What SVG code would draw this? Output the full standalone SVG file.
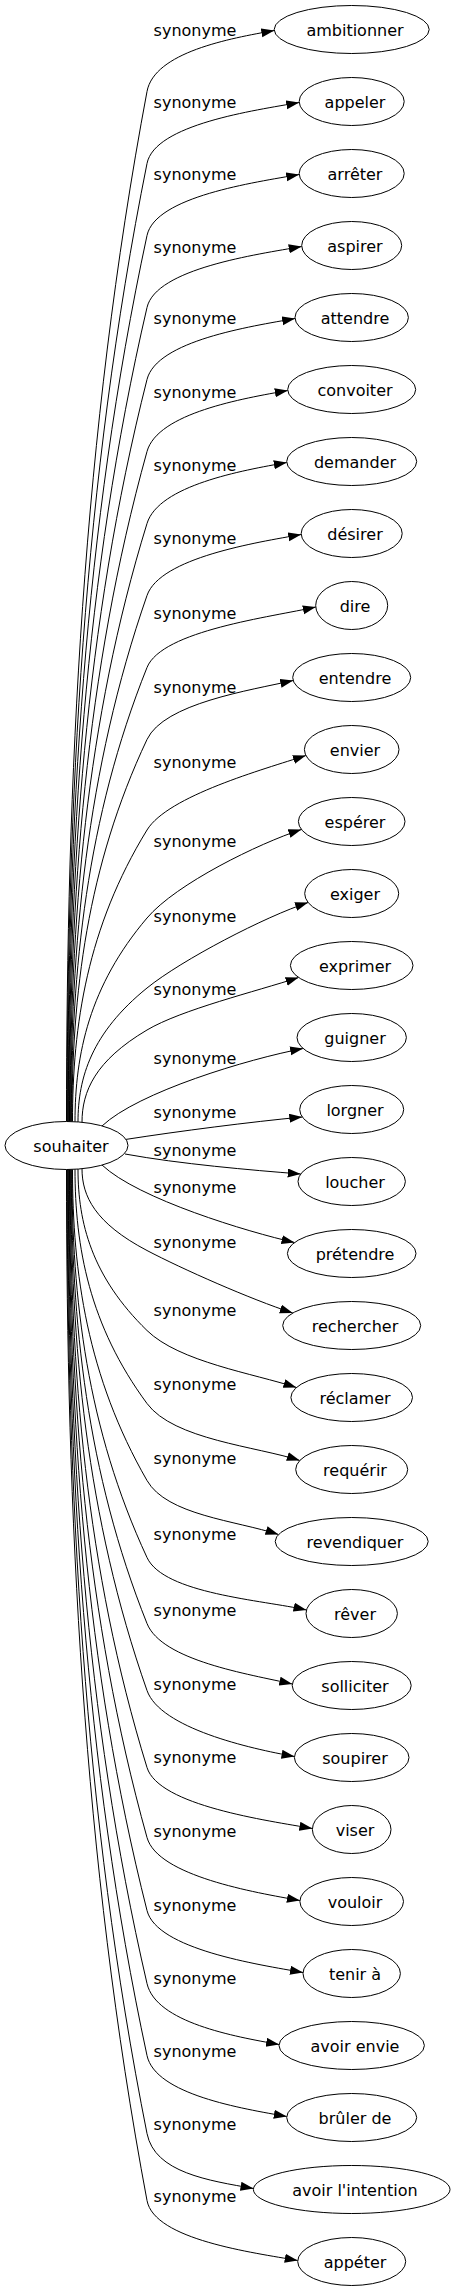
<svg xmlns="http://www.w3.org/2000/svg" width="455" height="2291" viewBox="0 0 455 2291">
<style>
.n ellipse{fill:#fff;stroke:#000;stroke-width:1}
text{font-family:"DejaVu Sans","Liberation Sans",sans-serif;font-size:16px;fill:#000}
.n text{text-anchor:middle}
.lbl{text-anchor:middle}
.e path{fill:none;stroke:#000;stroke-width:1;marker-end:url(#arr)}
</style>
<defs>
<marker id="arr" markerUnits="userSpaceOnUse" markerWidth="14" markerHeight="10" refX="13" refY="4.5" orient="auto">
<path d="M0,0 L13,4.5 L0,9 z" fill="#000"/>
</marker>
</defs>
<rect width="455" height="2291" fill="#fff"/>
<g id="connectors" class="e">
<path d="M66.5,1121.6 C66.5,778.2 82.6,434.9 147,91.5 C154.4,52.2 229.3,38.5 274.3,30.5"/>
<path d="M67.1,1121.6 C67.1,802.2 83.1,482.9 147,163.5 C154.8,124.3 254.2,110.5 299.2,102.5"/>
<path d="M67.7,1121.6 C67.7,826.2 83.6,530.9 147,235.5 C155.4,196.4 254.2,182.5 299.2,174.5"/>
<path d="M68.3,1121.6 C68.3,850.2 84,578.9 147,307.5 C156,268.5 256.7,254.5 301.7,246.5"/>
<path d="M68.9,1121.6 C68.9,874.2 84.5,626.9 147,379.5 C156.8,340.7 250.1,326.5 295.1,318.5"/>
<path d="M69.5,1121.6 C69.5,898.2 85,674.9 147,451.5 C157.7,413 242.8,398.5 287.8,390.5"/>
<path d="M70.1,1121.6 C70.1,922.2 85.5,722.9 147,523.5 C158.8,485.3 241.8,470.5 286.8,462.5"/>
<path d="M70.7,1121.6 C70.7,946.2 86,770.9 147,595.5 C160.1,557.7 256.2,542.5 301.2,534.5"/>
<path d="M71.3,1121.6 C71.3,970.2 86.4,818.9 147,667.5 C161.9,630.4 271.8,617 315.8,607"/>
<path d="M71.9,1121.6 C71.9,994.2 86.9,866.9 147,739.5 C164.1,703.3 249.2,690.5 293.2,680.5"/>
<path d="M72.5,1121.6 C72.5,1024.4 87.4,927.2 147,830 C167.9,795.9 263.1,769.5 305.9,755.5"/>
<path d="M75,1121.8 C75,1053.9 89.4,985.9 147,918 C176.1,883.7 258.6,843.5 301.4,829.5"/>
<path d="M78,1122 C78,1077.3 91.8,1032.7 147,988 C182,959.7 265.3,916.5 308.1,902.5"/>
<path d="M82,1122.3 C82,1091.5 95,1060.8 147,1030 C181.4,1009.6 255.8,991.5 298.6,977.5"/>
<path d="M102,1126 C138,1092 248,1059 303.1,1048.5"/>
<path d="M126,1139.4 C180,1131 250,1122 302.3,1117"/>
<path d="M125,1154 C180,1164 250,1170 300.7,1174"/>
<path d="M102,1165 C138,1199 248,1232 294.5,1242.5"/>
<path d="M82,1168.7 C82,1196 95,1223.2 147,1250.5 C182.4,1269.1 250,1299 292.8,1313"/>
<path d="M78,1169 C78,1222.8 91.8,1276.7 147,1330.5 C179.2,1361.9 253.6,1373.5 296.4,1387.5"/>
<path d="M75,1169.2 C75,1247.3 89.4,1325.4 147,1403.5 C173.7,1439.7 257,1446.5 299.8,1460.5"/>
<path d="M72.5,1169.4 C72.5,1273.1 87.4,1376.8 147,1480.5 C166.9,1515.2 235.7,1520.5 278.5,1534.5"/>
<path d="M71.9,1169.4 C71.9,1298.8 86.9,1428.1 147,1557.5 C163.8,1593.8 262.5,1600 306.5,1610"/>
<path d="M71.3,1169.4 C71.3,1320.8 86.4,1472.1 147,1623.5 C161.9,1660.6 248.3,1674 292.3,1684"/>
<path d="M70.7,1169.4 C70.7,1343.1 86,1516.8 147,1690.5 C160.3,1728.2 249.5,1748.5 294.5,1756.5"/>
<path d="M70.1,1169.4 C70.1,1368.8 85.5,1568.1 147,1767.5 C158.8,1805.7 267.4,1820.5 312.4,1828.5"/>
<path d="M69.5,1169.4 C69.5,1392.1 85,1614.8 147,1837.5 C157.7,1876 254.9,1892.5 299.9,1900.5"/>
<path d="M68.9,1169.4 C68.9,1416.4 84.5,1663.5 147,1910.5 C156.8,1949.3 258,1964.5 303,1972.5"/>
<path d="M68.3,1169.4 C68.3,1440.8 84,1712.1 147,1983.5 C156,2022.5 234.1,2036.5 279.1,2044.5"/>
<path d="M67.7,1169.4 C67.7,1464.8 83.6,1760.1 147,2055.5 C155.4,2094.6 241.8,2108.5 286.8,2116.5"/>
<path d="M67.1,1169.4 C67.1,1490.8 83.1,1812.1 147,2133.5 C154.8,2172.7 208.5,2180.5 253.5,2188.5"/>
<path d="M66.5,1169.4 C66.5,1513.1 82.6,1856.8 147,2200.5 C154.4,2239.8 252.7,2252.5 297.7,2260.5"/>
</g>
<g id="edge-labels">
<text class="lbl" x="195" y="36">synonyme</text>
<text class="lbl" x="195" y="108">synonyme</text>
<text class="lbl" x="195" y="180">synonyme</text>
<text class="lbl" x="195" y="253">synonyme</text>
<text class="lbl" x="195" y="324">synonyme</text>
<text class="lbl" x="195" y="398">synonyme</text>
<text class="lbl" x="195" y="471">synonyme</text>
<text class="lbl" x="195" y="544">synonyme</text>
<text class="lbl" x="195" y="619">synonyme</text>
<text class="lbl" x="195" y="693">synonyme</text>
<text class="lbl" x="195" y="768">synonyme</text>
<text class="lbl" x="195" y="847">synonyme</text>
<text class="lbl" x="195" y="922">synonyme</text>
<text class="lbl" x="195" y="995">synonyme</text>
<text class="lbl" x="195" y="1064">synonyme</text>
<text class="lbl" x="195" y="1118">synonyme</text>
<text class="lbl" x="195" y="1156">synonyme</text>
<text class="lbl" x="195" y="1193">synonyme</text>
<text class="lbl" x="195" y="1248">synonyme</text>
<text class="lbl" x="195" y="1316">synonyme</text>
<text class="lbl" x="195" y="1390">synonyme</text>
<text class="lbl" x="195" y="1464">synonyme</text>
<text class="lbl" x="195" y="1540">synonyme</text>
<text class="lbl" x="195" y="1616">synonyme</text>
<text class="lbl" x="195" y="1690">synonyme</text>
<text class="lbl" x="195" y="1763">synonyme</text>
<text class="lbl" x="195" y="1837">synonyme</text>
<text class="lbl" x="195" y="1911">synonyme</text>
<text class="lbl" x="195" y="1984">synonyme</text>
<text class="lbl" x="195" y="2057">synonyme</text>
<text class="lbl" x="195" y="2130">synonyme</text>
<text class="lbl" x="195" y="2202">synonyme</text>
</g>
<g id="souhaiter" class="n"><ellipse cx="66.5" cy="1145.5" rx="61.5" ry="24"/><text x="71" y="1151.5">souhaiter</text></g>
<g id="ambitionner" class="n"><ellipse cx="351.7" cy="29.5" rx="77.5" ry="24"/><text x="355" y="35.5">ambitionner</text></g>
<g id="appeler" class="n"><ellipse cx="351.7" cy="101.5" rx="52.5" ry="24"/><text x="355" y="107.5">appeler</text></g>
<g id="arreter" class="n"><ellipse cx="351.7" cy="173.5" rx="52.5" ry="24"/><text x="355" y="179.5">arrêter</text></g>
<g id="aspirer" class="n"><ellipse cx="351.7" cy="245.5" rx="50" ry="24"/><text x="355" y="251.5">aspirer</text></g>
<g id="attendre" class="n"><ellipse cx="351.7" cy="317.5" rx="56.7" ry="24"/><text x="355" y="323.5">attendre</text></g>
<g id="convoiter" class="n"><ellipse cx="351.7" cy="389.5" rx="64" ry="24"/><text x="355" y="395.5">convoiter</text></g>
<g id="demander" class="n"><ellipse cx="351.7" cy="461.5" rx="65" ry="24"/><text x="355" y="467.5">demander</text></g>
<g id="desirer" class="n"><ellipse cx="351.7" cy="533.5" rx="50.5" ry="24"/><text x="355" y="539.5">désirer</text></g>
<g id="dire" class="n"><ellipse cx="351.7" cy="605.5" rx="36" ry="24"/><text x="355" y="611.5">dire</text></g>
<g id="entendre" class="n"><ellipse cx="351.7" cy="677.5" rx="59" ry="24"/><text x="355" y="683.5">entendre</text></g>
<g id="envier" class="n"><ellipse cx="351.7" cy="749.5" rx="47.3" ry="24"/><text x="355" y="755.5">envier</text></g>
<g id="esperer" class="n"><ellipse cx="351.7" cy="821.5" rx="53.3" ry="24"/><text x="355" y="827.5">espérer</text></g>
<g id="exiger" class="n"><ellipse cx="351.7" cy="893.5" rx="47" ry="24"/><text x="355" y="899.5">exiger</text></g>
<g id="exprimer" class="n"><ellipse cx="351.7" cy="965.5" rx="61.3" ry="24"/><text x="355" y="971.5">exprimer</text></g>
<g id="guigner" class="n"><ellipse cx="351.7" cy="1037.5" rx="54.7" ry="24"/><text x="355" y="1043.5">guigner</text></g>
<g id="lorgner" class="n"><ellipse cx="351.7" cy="1109.5" rx="52" ry="24"/><text x="355" y="1115.5">lorgner</text></g>
<g id="loucher" class="n"><ellipse cx="351.7" cy="1181.5" rx="53.7" ry="24"/><text x="355" y="1187.5">loucher</text></g>
<g id="pretendre" class="n"><ellipse cx="351.7" cy="1253.5" rx="64.3" ry="24"/><text x="355" y="1259.5">prétendre</text></g>
<g id="rechercher" class="n"><ellipse cx="351.7" cy="1325.5" rx="69" ry="24"/><text x="355" y="1331.5">rechercher</text></g>
<g id="reclamer" class="n"><ellipse cx="351.7" cy="1397.5" rx="60.8" ry="24"/><text x="355" y="1403.5">réclamer</text></g>
<g id="requerir" class="n"><ellipse cx="351.7" cy="1469.5" rx="56" ry="24"/><text x="355" y="1475.5">requérir</text></g>
<g id="revendiquer" class="n"><ellipse cx="351.7" cy="1541.5" rx="76.5" ry="24"/><text x="355" y="1547.5">revendiquer</text></g>
<g id="rever" class="n"><ellipse cx="351.7" cy="1613.5" rx="45.7" ry="24"/><text x="355" y="1619.5">rêver</text></g>
<g id="solliciter" class="n"><ellipse cx="351.7" cy="1685.5" rx="59.5" ry="24"/><text x="355" y="1691.5">solliciter</text></g>
<g id="soupirer" class="n"><ellipse cx="351.7" cy="1757.5" rx="57.3" ry="24"/><text x="355" y="1763.5">soupirer</text></g>
<g id="viser" class="n"><ellipse cx="351.7" cy="1829.5" rx="39.3" ry="24"/><text x="355" y="1835.5">viser</text></g>
<g id="vouloir" class="n"><ellipse cx="351.7" cy="1901.5" rx="51.8" ry="24"/><text x="355" y="1907.5">vouloir</text></g>
<g id="tenir-a" class="n"><ellipse cx="351.7" cy="1973.5" rx="48.7" ry="24"/><text x="355" y="1979.5">tenir à</text></g>
<g id="avoir-envie" class="n"><ellipse cx="351.7" cy="2045.5" rx="72.7" ry="24"/><text x="355" y="2051.5">avoir envie</text></g>
<g id="bruler-de" class="n"><ellipse cx="351.7" cy="2117.5" rx="65" ry="24"/><text x="355" y="2123.5">brûler de</text></g>
<g id="avoir-l-intention" class="n"><ellipse cx="351.7" cy="2189.5" rx="98.3" ry="24"/><text x="355" y="2195.5">avoir l'intention</text></g>
<g id="appeter" class="n"><ellipse cx="351.7" cy="2261.5" rx="54" ry="24"/><text x="355" y="2267.5">appéter</text></g>
</svg>
